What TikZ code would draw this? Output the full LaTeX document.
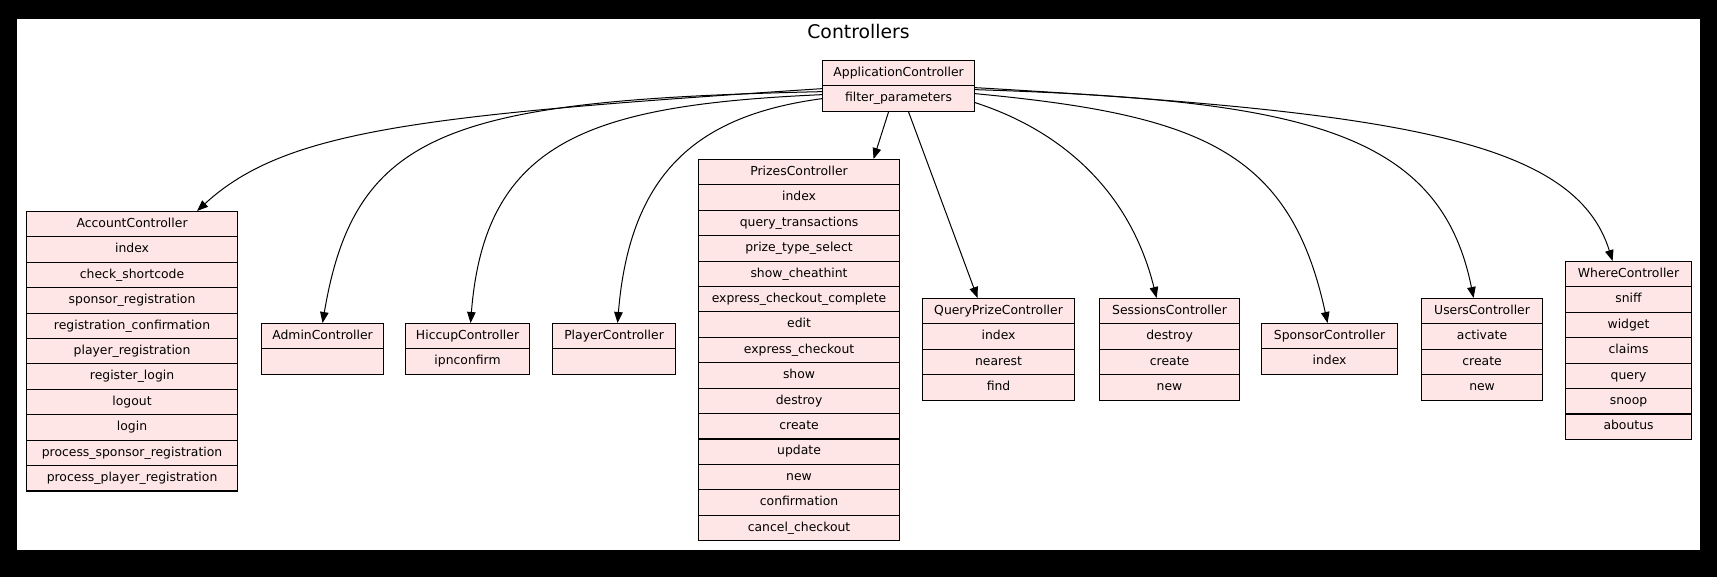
\documentclass[tikz,border=0pt]{standalone}
\usepackage{fontspec}
\setmainfont{DejaVu Sans}
\usetikzlibrary{arrows.meta}
\definecolor{rowpink}{RGB}{255,230,230}
\newcommand\ctrlbox[5]{%
  \foreach \t [count=\i] in {#5} {
    \node[row, minimum width={#3-#2}, anchor=north west] (#1-\i) at ({#2},{#4+(\i-1)*25.4}) {\t};
  }%
}
\begin{document}
\begin{tikzpicture}[x=1pt,y=-1pt,
  row/.style={draw=black, fill=rowpink, line width=1.1pt, minimum height=25.4pt,
    inner sep=0pt, text height=9pt, text depth=2.5pt,
    font=\fontsize{12.4}{14}\selectfont},
  conn/.style={draw=black, line width=1pt, -{Triangle[length=11pt,width=8.5pt]}},
  titletext/.style={font=\fontsize{18.8}{22}\selectfont}]
\useasboundingbox (0,0) rectangle (1717,577);
\fill[black] (0,0) rectangle (1717,577);
\fill[white] (17,19) rectangle (1700,550);
\node[titletext] (title) at (858.5,31) {Controllers};

\ctrlbox{app}{822}{974}{60}{ApplicationController,filter\_parameters}
\ctrlbox{acc}{26}{237}{211}{AccountController,index,check\_shortcode,sponsor\_registration,registration\_confirmation,player\_registration,register\_login,logout,login,process\_sponsor\_registration,process\_player\_registration}
\ctrlbox{adm}{261}{383}{323}{AdminController,{}}
\ctrlbox{hic}{405}{529}{323}{HiccupController,ipnconfirm}
\ctrlbox{ply}{552}{675}{323}{PlayerController,{}}
\ctrlbox{prz}{698}{899}{159}{PrizesController,index,query\_transactions,prize\_type\_select,show\_cheathint,express\_checkout\_complete,edit,express\_checkout,show,destroy,create,update,new,confirmation,cancel\_checkout}
\ctrlbox{qpc}{922}{1074}{298}{QueryPrizeController,index,nearest,find}
\ctrlbox{ses}{1099}{1239}{298}{SessionsController,destroy,create,new}
\ctrlbox{spn}{1261}{1397}{323}{SponsorController,index}
\ctrlbox{usr}{1421}{1542}{298}{UsersController,activate,create,new}
\ctrlbox{whr}{1565}{1691}{261}{WhereController,sniff,widget,claims,query,snoop,aboutus}

\draw[conn] ([yshift=10pt]app-2.west) .. controls (420,115) and (285,130) .. ([xshift=65pt]acc-1.north);
\draw[conn] ([yshift=7pt]app-2.west) .. controls (450,100) and (355,130) .. (adm-1.north);
\draw[conn] ([yshift=4pt]app-2.west) .. controls (590,105) and (485,140) .. ([xshift=3pt]hic-1.north);
\draw[conn] (app-2.west) .. controls (700,115) and (630,170) .. ([xshift=3.5pt]ply-1.north);
\draw[conn] ([xshift=-10pt]app-2.south) -- ([xshift=74.5pt]prz-1.north);
\draw[conn] ([xshift=10pt]app-2.south) -- ([xshift=-21pt]qpc-1.north);
\draw[conn] ([yshift=-4pt]app-2.east) .. controls (1060,130) and (1130,190) .. ([xshift=-13pt]ses-1.north);
\draw[conn] ([yshift=5pt]app-2.east) .. controls (1200,115) and (1290,150) .. ([xshift=-2pt]spn-1.north);
\draw[conn] ([yshift=9pt]app-2.east) .. controls (1300,100) and (1440,130) .. ([xshift=-8.5pt]usr-1.north);
\draw[conn] ([yshift=11pt]app-2.east) .. controls (1400,112) and (1575,140) .. ([xshift=-16pt]whr-1.north);
\end{tikzpicture}
\end{document}
